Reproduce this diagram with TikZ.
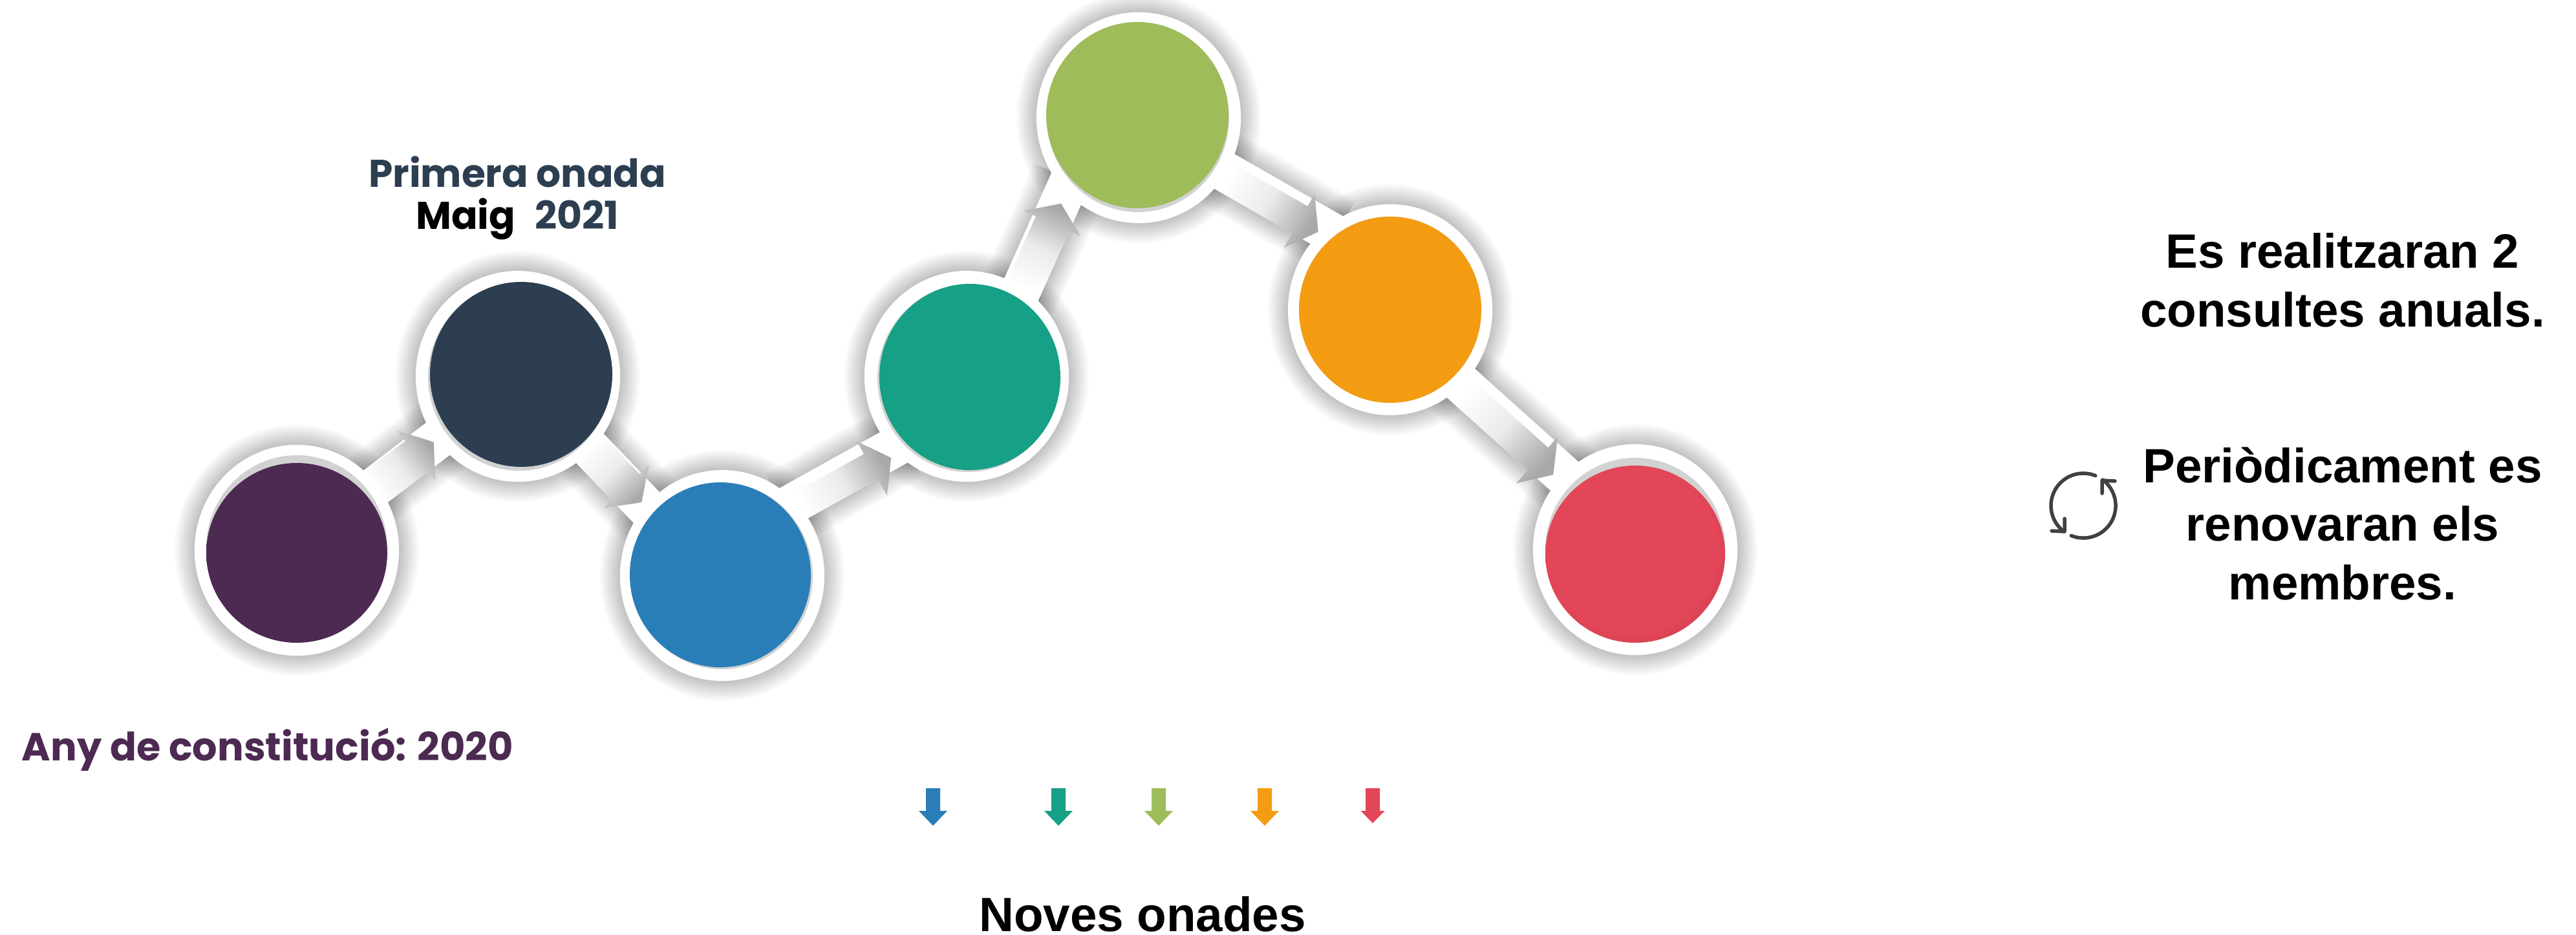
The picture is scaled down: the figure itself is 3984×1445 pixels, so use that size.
\documentclass[tikz,border=0pt]{standalone}
\usepackage{fontspec}
\setmainfont{Liberation Sans}
\newfontfamily\gothic{Poppins}
\usetikzlibrary{shapes.geometric,calc}
\definecolor{cpurple}{HTML}{4C2A52}
\definecolor{cpurpled}{HTML}{40234A}
\definecolor{cnavy}{HTML}{2C3E50}
\definecolor{cblue}{HTML}{2A7EB8}
\definecolor{cteal}{HTML}{16A085}
\definecolor{colive}{HTML}{9EBC5A}
\definecolor{corange}{HTML}{F39C12}
\definecolor{cred}{HTML}{E24658}
\definecolor{credd}{HTML}{B23543}
\definecolor{cring}{HTML}{D2D2D2}
\definecolor{cicon}{HTML}{404040}
\definecolor{chead}{HTML}{A8A8A8}
\definecolor{cmid}{HTML}{EBEBEB}
\pgfdeclarelayer{shadow}
\pgfdeclarelayer{band}
\pgfdeclarelayer{top}
\pgfsetlayers{shadow,band,main,top}
\pgfdeclareradialshading{purplevig}{\pgfpointorigin}{color(0bp)=(cpurple); color(27bp)=(cpurple); color(36bp)=(cpurpled); color(50bp)=(cpurpled)}
\pgfdeclareradialshading{redvig}{\pgfpoint{-2bp}{3bp}}{color(0bp)=(cred); color(24bp)=(cred); color(37bp)=(credd); color(50bp)=(credd)}
\tikzset{
  discshape/.style={ellipse,inner sep=0pt,outer sep=0pt,draw=none},
  purplefill/.style={shade,shading=purplevig},
  navyfill/.style={fill=cnavy},
  bluefill/.style={fill=cblue},
  tealfill/.style={fill=cteal},
  olivefill/.style={fill=colive},
  orangefill/.style={fill=corange},
  redfill/.style={shade,shading=redvig},
  gothictext/.style={font=\gothic\bfseries\fontsize{17}{17}\selectfont,anchor=base,inner sep=0pt},
  sanstext/.style={font=\bfseries\fontsize{21.2}{25.8}\selectfont,align=center,text=black,inner sep=0pt},
  iconline/.style={draw=cicon,line width=0.055cm,line cap=round,line join=round}
}
% name, cx, cy, inner cx, inner cy, inner rx, inner ry, ring dx, ring dy
\newcommand\disc[9]{%
  \begin{pgfonlayer}{shadow}
    \foreach \i in {1,...,12}
      \fill[black,opacity=.018] (#2,#3) ellipse [x radius=158+2.6*\i,y radius=163+2.6*\i];
  \end{pgfonlayer}
  \node[discshape,fill=white,minimum width=3.16cm,minimum height=3.26cm] (#1) at (#2,#3) {};
  \node[discshape,fill=cring,minimum width={2*#6*0.01cm},minimum height={2*#7*0.01cm+abs(#9)*0.01cm}] (#1ring) at ($(#4,#5)+(#8,#9)$) {};
  \node[discshape,#1fill,minimum width={2*#6*0.01cm},minimum height={2*#7*0.01cm}] (#1in) at (#4,#5) {};
}
% from anchor, to anchor, tip set-back, lateral shift of the head
\newcommand\wavearrow[4]{%
  \path let \p1=(#1),\p2=(#2),\n1={atan2(\y2-\y1,\x2-\x1)},\n2={veclen(\x2-\x1,\y2-\y1)/0.28453} in
    \pgfextra{\pgfmathsetmacro\wanga{\n1}\pgfmathsetmacro\wlena{\n2}\global\let\wang\wanga\global\let\wlen\wlena};
  \pgfmathsetmacro\wsa{\wang-90}%
  \pgfmathsetmacro\wtip{\wlen-#3}%
  \pgfmathsetmacro\wneck{\wtip-34}%
  \pgfmathsetmacro\wup{-31+3+1.2*#4}%
  \begin{pgfonlayer}{shadow}
    \begin{scope}[shift={(#1)},rotate=\wang]
      \foreach \i in {1,...,12}
        \draw[black,opacity=.018,line width={(62+5.2*\i)*0.01cm}] (-20,0) -- (\wlen+20,0);
    \end{scope}
  \end{pgfonlayer}
  \begin{pgfonlayer}{band}
    \begin{scope}[shift={(#1)},rotate=\wang]
      \fill[white] (-20,-31) -- (\wlen+20,-31) -- (\wlen+20,31) -- (-20,31) -- cycle;
    \end{scope}
  \end{pgfonlayer}
  \begin{pgfonlayer}{top}
    \begin{scope}[shift={(#1)},rotate=\wang]
      \shade[top color=chead,bottom color=white,middle color=cmid,shading angle=\wsa]
        (0,\wup) -- (\wneck,\wup) -- (\wneck,#4-48) -- (\wtip,#4) -- (\wneck,#4+48)
        -- (\wneck,31) -- (0,31) -- cycle;
    \end{scope}
  \end{pgfonlayer}
}
\newcommand\drop[4]{% x of tip, half head width, tip y, colour
  \fill[#4] (#1-11,1219) -- (#1+11,1219) -- (#1+11,1254) -- (#1+#2,1254) -- (#1,#3) -- (#1-#2,1254) -- (#1-11,1254) -- cycle;
}
\begin{document}
\begin{tikzpicture}[x=0.01cm,y=-0.01cm]
\useasboundingbox (0,0) rectangle (3984,1445);
\begin{pgfonlayer}{shadow}
\fill[white] (0,0) rectangle (3984,1445);
\end{pgfonlayer}

\disc{purple}{459}{851}{459}{855}{140}{139}{0}{-8}
\disc{navy}{801}{582}{806}{579}{141}{143}{-3}{4}
\disc{blue}{1117}{890}{1114}{889}{140}{143}{3}{2}
\disc{teal}{1495}{582}{1500}{583}{140}{144}{-3}{2}
\disc{olive}{1761}{182}{1759}{178}{141}{144}{1}{4}
\disc{orange}{2150}{479}{2150}{479}{141}{144}{0}{0}
\disc{red}{2529}{850}{2529}{857}{139}{137}{0}{-8}

\wavearrow{purple.39}{navy.218.5}{5}{0}
\wavearrow{navy.315.3}{blue.138.1}{8}{0}
\wavearrow{blue.45}{teal.224.2}{8}{12}
\wavearrow{teal.58.1}{olive.225.8}{20}{2}
\wavearrow{olive.328.9}{orange.129.4}{6}{9}
\wavearrow{orange.314.2}{red.134.7}{11}{10}

\node[gothictext,text=cnavy] (firstwave) at (800,289) {Primera onada};
\node[gothictext,text=cnavy] (firstdate) at (800,354) {\textcolor{black}{Maig}\hspace{5pt} 2021};
\node[gothictext,text=cpurple,anchor=base west,font=\gothic\bfseries\fontsize{17.2}{17}\selectfont] (founded) at (33,1176) {Any de constitució: 2020};
\node[sanstext] (newwaves) at (1767,1414) {Noves onades};
\node[sanstext] (consults) at (3623,433) {Es realitzaran 2\\consultes anuals.};
\node[sanstext] (renewal) at (3623,810) {Periòdicament es\\renovaran els\\membres.};

\drop{1443}{22}{1277}{cblue}
\drop{1637}{22}{1277}{cteal}
\drop{1792}{22}{1277}{colive}
\drop{1956}{22}{1277}{corange}
\drop{2123}{18.5}{1273}{cred}

\coordinate (loop) at (3222,782);
\draw[iconline] ($(loop)+(68:0.5cm)$) arc[start angle=68,end angle=230,radius=0.5cm];
\draw[iconline] ($(loop)+(248:0.5cm)$) arc[start angle=248,end angle=413,radius=0.5cm];
\draw[iconline] (3193,802) -- (3193,822) -- (3173,821);
\draw[iconline] (3251,763) -- (3251,743) -- (3271,744);
\end{tikzpicture}
\end{document}
